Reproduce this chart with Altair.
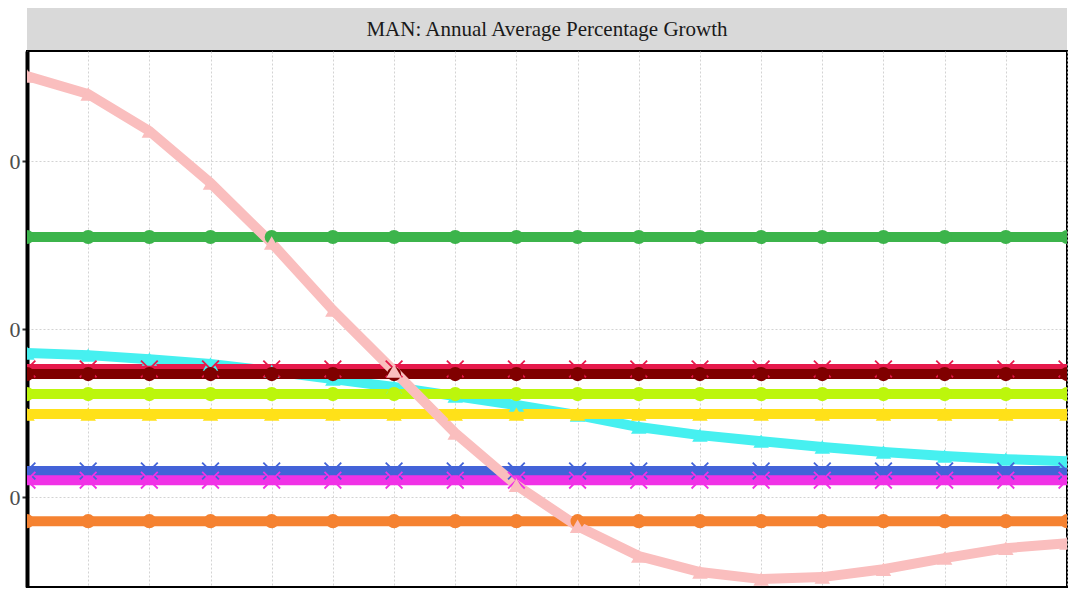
import altair as alt
import pandas as pd

# ---- data ----
period = [0, 1, 2, 3, 4, 5, 6, 7, 8, 9, 10, 11, 12, 13, 14, 15, 16, 17]

s_green = [1.548, 1.548, 1.548, 1.548, 1.548, 1.548, 1.548, 1.548, 1.548,
           1.548, 1.548, 1.548, 1.548, 1.548, 1.548, 1.548, 1.548, 1.548]
s_cyan = [0.857, 0.845, 0.821, 0.792, 0.750, 0.702, 0.655, 0.601, 0.548,
          0.488, 0.417, 0.369, 0.333, 0.298, 0.268, 0.244, 0.226, 0.214]
s_crimson = [0.762, 0.762, 0.762, 0.762, 0.762, 0.762, 0.762, 0.762, 0.762,
             0.762, 0.762, 0.762, 0.762, 0.762, 0.762, 0.762, 0.762, 0.762]
s_maroon = [0.732, 0.732, 0.732, 0.732, 0.732, 0.732, 0.732, 0.732, 0.732,
            0.732, 0.732, 0.732, 0.732, 0.732, 0.732, 0.732, 0.732, 0.732]
s_lime = [0.613, 0.613, 0.613, 0.613, 0.613, 0.613, 0.613, 0.613, 0.613,
          0.613, 0.613, 0.613, 0.613, 0.613, 0.613, 0.613, 0.613, 0.613]
s_yellow = [0.494, 0.494, 0.494, 0.494, 0.494, 0.494, 0.494, 0.494, 0.494,
            0.494, 0.494, 0.494, 0.494, 0.494, 0.494, 0.494, 0.494, 0.494]
s_blue = [0.155, 0.155, 0.155, 0.155, 0.155, 0.155, 0.155, 0.155, 0.155,
          0.155, 0.155, 0.155, 0.155, 0.155, 0.155, 0.155, 0.155, 0.155]
s_magenta = [0.101, 0.101, 0.101, 0.101, 0.101, 0.101, 0.101, 0.101, 0.101,
             0.101, 0.101, 0.101, 0.101, 0.101, 0.101, 0.101, 0.101, 0.101]
s_orange = [-0.143, -0.143, -0.143, -0.143, -0.143, -0.143, -0.143, -0.143, -0.143,
            -0.143, -0.143, -0.143, -0.143, -0.143, -0.143, -0.143, -0.143, -0.143]
s_pink = [2.506, 2.399, 2.179, 1.869, 1.512, 1.113, 0.750, 0.381, 0.071,
          -0.173, -0.351, -0.446, -0.488, -0.476, -0.429, -0.363, -0.304, -0.274]

y_ticks = [0, 1, 2]
strip_title = "MAN: Annual Average Percentage Growth"

X_SHAPE = "M-1,-1L1,1M-1,1L1,-1"

# drawing order (later = on top), colour, marker
series = [
    ("cyan", s_cyan, "#46f0f0", "triangle-up"),
    ("crimson", s_crimson, "#e6194b", X_SHAPE),
    ("maroon", s_maroon, "#800000", "circle"),
    ("lime", s_lime, "#bcf60c", "circle"),
    ("yellow", s_yellow, "#ffe119", "triangle-up"),
    ("blue", s_blue, "#4363d8", X_SHAPE),
    ("magenta", s_magenta, "#f032e6", X_SHAPE),
    ("orange", s_orange, "#f58231", "circle"),
    ("green", s_green, "#3cb44b", "circle"),
    ("pink", s_pink, "#fabebe", "triangle-up"),
]

rows = []
for name, vals, _, _ in series:
    for p, v in zip(period, vals):
        rows.append({"series": name, "period": p, "value": v})
df = pd.DataFrame(rows)

W, H = 1040, 536
x_scale = alt.Scale(domain=[0, 17], nice=False, zero=False)
y_scale = alt.Scale(domain=[-0.535, 2.655], nice=False, zero=False)

x_enc = alt.X("period:Q", scale=x_scale,
              axis=alt.Axis(values=period, labels=False, ticks=False,
                            domain=False, title=None, grid=True))
y_enc = alt.Y("value:Q", scale=y_scale,
              axis=alt.Axis(values=y_ticks, format=".1f", title=None, grid=True))

base = alt.Chart(df)
line_layers = []
point_layers = []
for name, _, col, shape in series:
    sub = base.transform_filter(alt.datum.series == name)
    line_layers.append(
        sub.mark_line(color=col, strokeWidth=10, clip=True).encode(x=x_enc, y=y_enc)
    )
    if shape == X_SHAPE:
        pt = sub.mark_point(shape=shape, color=col, filled=False, strokeWidth=1.8,
                            size=280, opacity=1, clip=True)
    elif shape == "circle":
        pt = sub.mark_point(shape="circle", color=col, filled=True, size=200,
                            opacity=1, clip=True)
    else:
        pt = sub.mark_point(shape="triangle-up", color=col, filled=True, size=240,
                            opacity=1, clip=True)
    point_layers.append(pt.encode(x=x_enc, y=y_enc))

strip_df = pd.DataFrame({"t": [strip_title]})
strip_rect = alt.Chart(strip_df).mark_rect(color="#d9d9d9").encode(
    x=alt.value(0), x2=alt.value(W), y=alt.value(-43), y2=alt.value(-1)
)
strip_text = alt.Chart(strip_df).mark_text(
    font="Liberation Serif", fontSize=21, color="#1a1a1a", baseline="middle", align="center"
).encode(x=alt.value(W / 2), y=alt.value(-21), text="t:N")

chart = alt.layer(strip_rect, strip_text, *line_layers, *point_layers).properties(
    width=W, height=H,
    autosize=alt.AutoSizeParams(type="none"),
    padding={"left": 19, "top": 43, "right": 2, "bottom": 2},
).configure_view(
    stroke="black", strokeWidth=2
).configure_axisY(
    domainColor="black", domainWidth=4, tickColor="#333333", tickSize=5, tickWidth=2,
    labelFont="Liberation Serif", labelFontSize=22, labelColor="#4d4d4d", labelPadding=2,
    labelExpr="substring(datum.label, length(datum.label) - 1)",
    gridColor="#c8c8c8", gridDash=[2, 2], gridWidth=0.8
).configure_axisX(
    gridColor="#c8c8c8", gridDash=[2, 2], gridWidth=0.8
)

chart.save("out.html", embed_options={"renderer": "svg", "actions": False})
